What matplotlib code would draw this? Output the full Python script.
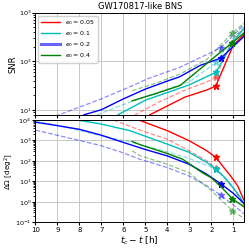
import matplotlib.pyplot as plt
from matplotlib.lines import Line2D

plt.rcParams['font.size'] = 5
plt.rcParams['xtick.major.size'] = 2
plt.rcParams['ytick.major.size'] = 2
plt.rcParams['ytick.minor.size'] = 1.2
plt.rcParams['xtick.major.pad'] = 1.5
plt.rcParams['ytick.major.pad'] = 1.0
plt.rcParams['axes.linewidth'] = 0.7

# e0 values / colours
e0_labels = ["0.05", "0.1", "0.2", "0.4"]
colors = ["red", "c", "blue", "green"]

# ---- SNR (top) ----
snr_t_solid = [
    [5.0, 4.8, 3.2, 2.2, 1.8, 1.0, 0.5],
    [6.25, 5.0, 4.0, 3.0, 1.78, 1.0, 0.5],
    [7.8, 7.0, 6.0, 5.0, 3.9, 3.45, 2.5, 1.56, 0.5],
    [5.6, 4.5, 3.42, 2.2, 1.7, 1.05, 0.5],
]
snr_solid = [
    [6.5, 8, 18.5, 26, 31, 215, 360],
    [8, 16, 23, 33, 60, 260, 480],
    [8, 10.2, 17, 27, 41, 48, 83, 117, 330],
    [15.5, 22, 32, 91, 140, 240, 390],
]
snr_t_dash = [
    [6.0, 5.47, 4.33, 3.27, 2.2, 1.8, 1.0, 0.5],
    [7.2, 6.0, 5.0, 4.0, 3.0, 1.78, 1.0, 0.5],
    [9.1, 7.0, 5.5, 4.9, 3.45, 1.56, 0.5],
    [5.6, 4.5, 3.42, 2.2, 1.05, 0.5],
]
snr_dash = [
    [5.5, 8, 15, 25, 38, 47, 300, 480],
    [8, 13, 19, 27, 38, 95, 300, 520],
    [7.5, 17, 33, 44, 75, 190, 580],
    [25, 36, 55, 110, 380, 620],
]
star_t = [1.8, 1.78, 1.56, 1.05]
snr_star_solid = [31, 60, 117, 240]
snr_star_dash = [47, 95, 190, 380]

# ---- sky localisation (bottom) ----
dom_t_solid = [
    [6.0, 5.3, 4.0, 3.0, 2.2, 1.8, 1.1, 0.8, 0.5],
    [8.1, 7.0, 5.7, 5.0, 4.0, 3.0, 2.2, 1.78, 1.38, 1.0, 0.7, 0.5],
    [10, 9, 8, 7, 6, 5, 4, 3, 2.2, 1.56, 1.0, 0.5],
    [5.6, 5.24, 4.0, 3.3, 2.4, 2.0, 1.5, 1.04, 0.5],
]
dom_solid = [
    [25000, 10000, 3000, 960, 310, 150, 17, 6, 1.1],
    [10000, 6300, 3000, 1600, 660, 260, 83, 39, 15, 4.7, 1.8, 0.7],
    [7800, 5300, 3500, 1800, 800, 360, 175, 68, 22, 7.5, 2.6, 0.8],
    [890, 620, 230, 120, 26, 15, 4.7, 1.4, 0.55],
]
dom_t_dash = [
    [6.45, 5.24, 4.0, 3.0, 2.2, 1.8, 1.0, 0.5],
    [10, 8.9, 7.0, 5.6, 4.0, 3.0, 2.2, 1.78, 1.0, 0.5],
    [10, 8, 7, 6.15, 5.24, 4, 3, 2.2, 1.56, 1.0, 0.5],
    [5.6, 5.24, 4.0, 3.0, 2.0, 1.04, 0.5],
]
dom_dash = [
    [10000, 3200, 1150, 310, 100, 45, 5, 0.6],
    [8700, 5200, 1700, 800, 280, 130, 60, 40, 5, 0.8],
    [3200, 1000, 550, 280, 120, 47, 18, 6, 2.1, 0.7, 0.25],
    [310, 180, 68, 26, 3.5, 0.37, 0.15],
]
dom_star_solid = [150, 38, 7.5, 1.4]
dom_star_dash = [45, 40, 2.1, 0.37]

fig, (ax1, ax2) = plt.subplots(2, 1, sharex=True, figsize=(2.49, 2.48), dpi=100)
fig.subplots_adjust(left=0.142, right=0.981, top=0.949, bottom=0.104, hspace=0.05)

for i in range(4):
    c = colors[i]
    ax1.plot(snr_t_dash[i], snr_dash[i], '--', color=c, alpha=0.45, lw=0.9)
    ax1.plot(snr_t_solid[i], snr_solid[i], '-', color=c, lw=1.0)
    ax1.plot(star_t[i], snr_star_dash[i], '*', color=c, alpha=0.45, ms=4.5)
    ax1.plot(star_t[i], snr_star_solid[i], '*', color=c, ms=4.5)

    ax2.plot(dom_t_dash[i], dom_dash[i], '--', color=c, alpha=0.45, lw=0.9)
    ax2.plot(dom_t_solid[i], dom_solid[i], '-', color=c, lw=1.0)
    ax2.plot(star_t[i], dom_star_dash[i], '*', color=c, alpha=0.45, ms=4.5)
    ax2.plot(star_t[i], dom_star_solid[i], '*', color=c, ms=4.5)

ax1.set_yscale('log')
ax1.set_ylim(8, 1000)
ax1.set_ylabel('SNR', fontsize=6, labelpad=1)
ax1.set_title('GW170817-like BNS', fontsize=6, pad=2.5)
ax1.grid(True, color='0.75', lw=0.6)
ax1.tick_params(axis='y', labelsize=4.6)

ax2.set_yscale('log')
ax2.set_ylim(0.1, 1e4)
ax2.set_xlim(10, 0.5)
ax2.set_xticks(range(10, 0, -1))
ax2.set_ylabel(r'$\Delta\Omega$ [deg$^2$]', fontsize=5.2, labelpad=0.2)
ax2.set_xlabel(r'$t_c - t$ [h]', fontsize=6.5, labelpad=1)
ax2.grid(True, color='0.75', lw=0.6)
ax2.tick_params(axis='y', labelsize=4.6)

handles = [
    Line2D([], [], color='red', lw=1.0),
    Line2D([], [], color='c', lw=1.0),
    Line2D([], [], color='blue', lw=2.2, alpha=0.6),
    Line2D([], [], color='green', lw=1.0),
]
ax1.legend(handles, [r'$e_0 = $' + s for s in e0_labels], loc='upper left',
           fontsize=4.5, handlelength=3.0, framealpha=0.9, borderpad=0.45,
           labelspacing=0.3, handletextpad=0.8)

fig.savefig('out.png', dpi=100)
